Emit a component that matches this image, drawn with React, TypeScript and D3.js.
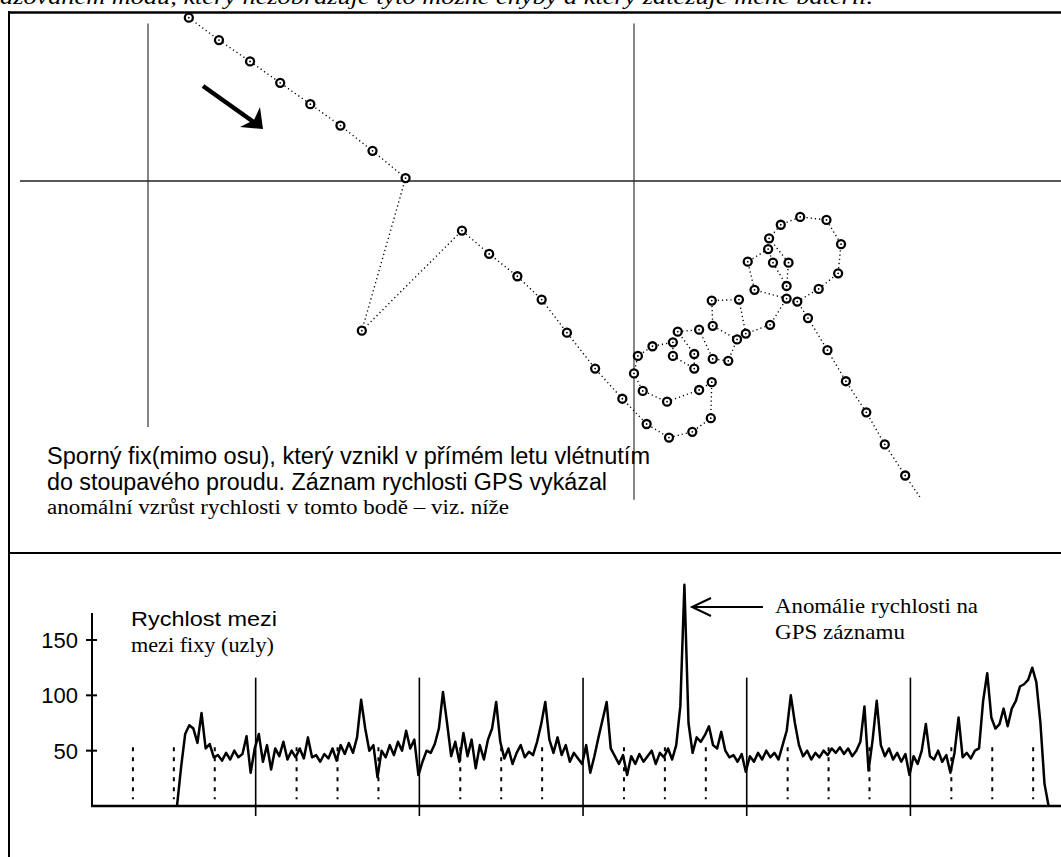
import React, { useEffect, useRef } from 'react';
import * as d3 from 'd3';

const WIDTH = 1061;
const HEIGHT = 857;

// GPS fixes on a local grid (turnpoint sector lines at east = 0 / 50, north = 0)
const trackEast = [
  4.2, 7.3, 10.5, 13.6, 16.7, 19.8, 23.1, 26.5, 22.0, 32.3, 35.1, 38.0, 40.5, 43.1,
  46.0, 48.8, 51.3, 53.6, 56.0, 57.9, 58.0, 56.7, 53.4, 50.9, 50.0, 50.4, 51.9, 54.0,
  54.0, 56.2, 56.2, 54.5, 56.7, 58.1, 59.7, 60.6, 58.1, 58.0, 60.8, 61.5, 64.0, 65.7,
  62.4, 61.7, 63.8, 64.3, 65.7, 65.9, 63.9, 65.1, 67.1, 69.8, 71.3, 71.0, 69.0, 66.8,
  67.9, 69.9, 71.8, 73.9, 75.8, 77.9, 79.4
];
const trackNorth = [
  16.8, 14.5, 12.3, 10.1, 7.9, 5.7, 3.1, 0.3, -15.4, -5.1, -7.5, -9.8, -12.2, -15.6,
  -19.3, -22.4, -25.0, -26.4, -25.8, -24.4, -20.7, -21.5, -22.7, -21.6, -19.8, -18.0, -17.0, -16.6,
  -18.0, -19.3, -17.8, -15.5, -15.3, -18.3, -18.5, -16.3, -14.9, -12.3, -12.2, -15.7, -14.8, -12.1,
  -11.2, -8.3, -7.0, -8.4, -10.8, -8.4, -5.9, -4.5, -3.7, -4.0, -6.5, -9.5, -11.1, -12.4,
  -14.1, -17.4, -20.6, -23.8, -27.1, -30.3, -32.5
];

// speed between fixes (knots), one fix every 0.1 of a minor time division
const speedStart = 2.077;
const speedStep = 0.1;
const speedValues = [
  0, 35, 65, 73, 70, 57, 84, 52, 56, 44, 46, 41, 48, 42, 50, 44, 47, 63, 30, 52,
  65, 40, 55, 33, 52, 45, 58, 42, 50, 44, 52, 43, 62, 44, 46, 40, 47, 43, 52, 41,
  55, 47, 57, 48, 62, 96, 70, 50, 55, 26, 50, 44, 55, 46, 58, 50, 68, 52, 60, 28,
  40, 50, 48, 56, 70, 103, 75, 45, 58, 40, 66, 45, 60, 34, 55, 42, 60, 70, 94, 58,
  43, 52, 38, 48, 55, 44, 49, 46, 58, 74, 94, 60, 48, 62, 46, 55, 40, 48, 43, 38,
  55, 30, 45, 62, 78, 94, 52, 45, 38, 46, 28, 45, 38, 47, 40, 45, 50, 38, 48, 44,
  52, 42, 55, 90, 200, 75, 48, 62, 58, 64, 72, 55, 52, 67, 50, 44, 46, 40, 47, 31,
  45, 40, 48, 42, 50, 44, 48, 42, 55, 68, 100, 75, 55, 45, 50, 42, 48, 44, 50, 46,
  52, 48, 53, 47, 52, 45, 50, 58, 90, 32, 60, 95, 55, 45, 52, 42, 48, 40, 47, 28,
  45, 38, 50, 74, 45, 42, 50, 40, 46, 30, 48, 80, 44, 48, 43, 50, 52, 95, 120, 80,
  70, 74, 88, 72, 88, 95, 108, 110, 114, 125, 112, 75, 20, 0
];

const majorTicks = [4, 8, 12, 16, 20];
const minorTicks = [1, 2, 3, 5, 6, 7, 9, 10, 11, 13, 14, 15, 17, 18, 19, 21, 22, 23];
const speedTicks = [50, 100, 150];

const topCaption = 'ázovaném módu, který nezobrazuje tyto možné chyby a který zatěžuje méně baterii.';
const noteLines = [
  'Sporný fix(mimo osu), který vznikl v přímém letu vlétnutím',
  'do stoupavého proudu. Záznam rychlosti GPS vykázal'
];
const noteSerif = 'anomální vzrůst rychlosti v tomto bodě – viz. níže';
const speedTitle = 'Rychlost mezi';
const speedSubtitle = 'mezi fixy (uzly)';
const anomalyLines = ['Anomálie rychlosti na', 'GPS záznamu'];

const SANS = '"Liberation Sans", Arial, sans-serif';
const SERIF = '"Liberation Serif", "Times New Roman", serif';

const App: React.FC = () => {
  const svgRef = useRef<SVGSVGElement>(null);

  useEffect(() => {
    if (!svgRef.current) return;
    const svg = d3.select(svgRef.current);
    svg.selectAll('*').remove();

    // frame
    svg.append('text')
      .attr('x', 0).attr('y', 4)
      .attr('font-family', SERIF).attr('font-style', 'italic').attr('font-size', 20)
      .attr('textLength', 873).attr('lengthAdjust', 'spacingAndGlyphs')
      .text(topCaption);
    svg.append('line').attr('x1', 8).attr('x2', WIDTH).attr('y1', 12.5).attr('y2', 12.5)
      .attr('stroke', '#000').attr('stroke-width', 2.5);
    svg.append('line').attr('x1', 9).attr('x2', 9).attr('y1', 11).attr('y2', HEIGHT)
      .attr('stroke', '#000').attr('stroke-width', 2);
    svg.append('line').attr('x1', 8).attr('x2', WIDTH).attr('y1', 553).attr('y2', 553)
      .attr('stroke', '#000').attr('stroke-width', 2);

    // ---- track panel ----
    const ex = d3.scaleLinear().domain([0, 50]).range([148, 634]);
    const ny = d3.scaleLinear().domain([0, 10]).range([181, 83.8]);

    const g1 = svg.append('g');
    g1.append('line').attr('x1', ex(0)).attr('x2', ex(0)).attr('y1', ny(16.2)).attr('y2', ny(-25.3))
      .attr('stroke', '#444').attr('stroke-width', 1.3);
    g1.append('line').attr('x1', ex(50)).attr('x2', ex(50)).attr('y1', ny(16.2)).attr('y2', ny(-32.8))
      .attr('stroke', '#444').attr('stroke-width', 1.3);
    g1.append('line').attr('x1', 20).attr('x2', WIDTH).attr('y1', ny(0)).attr('y2', ny(0))
      .attr('stroke', '#222').attr('stroke-width', 1.3);

    const pts = trackEast.map((e, i) => [ex(e), ny(trackNorth[i])] as [number, number]);
    g1.append('path')
      .attr('d', d3.line()(pts))
      .attr('fill', 'none')
      .attr('stroke', '#000')
      .attr('stroke-width', 1.4)
      .attr('stroke-dasharray', '1.2,3');

    const fixes = pts.slice(0, pts.length - 1);
    g1.selectAll('circle.fix').data(fixes).enter().append('circle')
      .attr('class', 'fix')
      .attr('cx', d => d[0]).attr('cy', d => d[1]).attr('r', 4)
      .attr('fill', '#fff').attr('stroke', '#000').attr('stroke-width', 2.3);
    g1.selectAll('circle.dot').data(fixes).enter().append('circle')
      .attr('class', 'dot')
      .attr('cx', d => d[0]).attr('cy', d => d[1]).attr('r', 0.9)
      .attr('fill', '#000');

    // direction arrow
    const a0: [number, number] = [ex(5.66), ny(9.77)];
    const tip: [number, number] = [ex(11.83), ny(5.35)];
    g1.append('line').attr('x1', a0[0]).attr('y1', a0[1]).attr('x2', tip[0] - 8).attr('y2', tip[1] - 6)
      .attr('stroke', '#000').attr('stroke-width', 4.5);
    g1.append('path')
      .attr('d', `M${tip[0]},${tip[1]} L${tip[0] - 3},${tip[1] - 22} L${tip[0] - 9},${tip[1] - 9} L${tip[0] - 23},${tip[1] - 2} Z`)
      .attr('fill', '#000');

    noteLines.forEach((t, i) => {
      g1.append('text')
        .attr('x', 47).attr('y', 464 + i * 26)
        .attr('font-family', SANS).attr('font-size', 23)
        .attr('textLength', i === 0 ? 603 : 560).attr('lengthAdjust', 'spacingAndGlyphs')
        .text(t);
    });
    g1.append('text')
      .attr('x', 47).attr('y', 514)
      .attr('font-family', SERIF).attr('font-size', 20)
      .attr('textLength', 462).attr('lengthAdjust', 'spacingAndGlyphs')
      .text(noteSerif);

    // ---- speed panel ----
    const tx = d3.scaleLinear().domain([0, 23.68]).range([92, WIDTH]);
    const sy = d3.scaleLinear().domain([0, 150]).range([806, 640]);
    const g2 = svg.append('g');

    g2.selectAll('line.minor').data(minorTicks).enter().append('line')
      .attr('x1', d => tx(d)).attr('x2', d => tx(d))
      .attr('y1', sy(53)).attr('y2', sy(6))
      .attr('stroke', '#000').attr('stroke-width', 2).attr('stroke-dasharray', '4,6');
    g2.selectAll('line.major').data(majorTicks).enter().append('line')
      .attr('x1', d => tx(d)).attr('x2', d => tx(d))
      .attr('y1', sy(116)).attr('y2', sy(0) + 10)
      .attr('stroke', '#000').attr('stroke-width', 1.6);

    const speedLine = d3.line<number>()
      .x((_, i) => tx(speedStart + i * speedStep))
      .y(d => sy(d));
    g2.append('path').datum(speedValues)
      .attr('d', speedLine)
      .attr('fill', 'none').attr('stroke', '#000').attr('stroke-width', 2.5)
      .attr('stroke-linejoin', 'round');

    // axes
    g2.append('line').attr('x1', tx(0)).attr('x2', tx(0)).attr('y1', 613).attr('y2', sy(0))
      .attr('stroke', '#000').attr('stroke-width', 2);
    g2.append('line').attr('x1', tx(0) - 1).attr('x2', WIDTH).attr('y1', sy(0)).attr('y2', sy(0))
      .attr('stroke', '#000').attr('stroke-width', 2.6);
    g2.selectAll('line.ytick').data(speedTicks).enter().append('line')
      .attr('x1', tx(0) - 6).attr('x2', tx(0) + 5)
      .attr('y1', d => sy(d)).attr('y2', d => sy(d))
      .attr('stroke', '#000').attr('stroke-width', 2);
    g2.selectAll('text.ylab').data(speedTicks).enter().append('text')
      .attr('x', 78).attr('y', d => sy(d) + 8)
      .attr('text-anchor', 'end')
      .attr('font-family', SANS).attr('font-size', 22)
      .text(d => d);

    g2.append('text').attr('x', 131).attr('y', 626)
      .attr('font-family', SANS).attr('font-size', 21)
      .attr('textLength', 146).attr('lengthAdjust', 'spacingAndGlyphs')
      .text(speedTitle);
    g2.append('text').attr('x', 131).attr('y', 652)
      .attr('font-family', SERIF).attr('font-size', 20)
      .attr('textLength', 143).attr('lengthAdjust', 'spacingAndGlyphs')
      .text(speedSubtitle);

    // anomaly annotation
    const ay = 607;
    g2.append('line').attr('x1', 763).attr('x2', 692).attr('y1', ay).attr('y2', ay)
      .attr('stroke', '#000').attr('stroke-width', 2);
    g2.append('path').attr('d', `M711,${ay - 9} L692,${ay} L711,${ay + 9}`)
      .attr('fill', 'none').attr('stroke', '#000').attr('stroke-width', 2);
    anomalyLines.forEach((t, i) => {
      g2.append('text')
        .attr('x', 775).attr('y', 613 + i * 26)
        .attr('font-family', SERIF).attr('font-size', 21)
        .attr('textLength', i === 0 ? 203 : 130).attr('lengthAdjust', 'spacingAndGlyphs')
        .text(t);
    });
  }, []);

  return (
    <svg
      ref={svgRef}
      width={WIDTH}
      height={HEIGHT}
      style={{ position: 'absolute', left: 0, top: 0, background: '#fff' }}
    />
  );
};

export default App;
